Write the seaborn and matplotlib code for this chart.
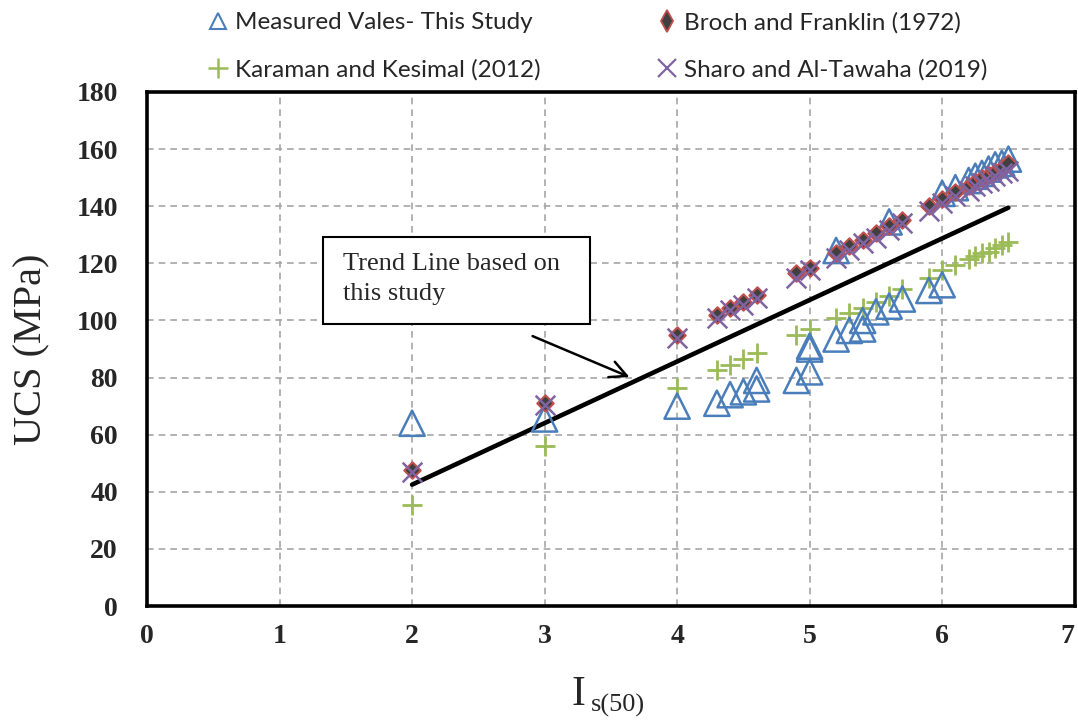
import numpy as np
import pandas as pd
import matplotlib
matplotlib.use("Agg")
import matplotlib.pyplot as plt
from matplotlib.lines import Line2D
from matplotlib.patches import Rectangle
import seaborn as sns

# measured values - this study
meas_is = [2, 3, 4, 4.3, 4.4, 4.5, 4.6, 4.6, 4.9, 5.0, 5.0, 5.0, 5.2, 5.3, 5.4, 5.4,
           5.5, 5.6, 5.7, 5.9, 6.0, 5.2, 5.6, 6.0, 6.1, 6.2, 6.25, 6.3, 6.35, 6.4, 6.45, 6.5]
meas_ucs = [64, 65.5, 70, 71, 74, 75, 76, 79, 79, 82, 90, 91, 93.5, 96.5, 97, 100,
            103, 105, 107.5, 110.5, 112.5, 124.5, 134.5, 144.5, 146.5, 149, 150.5, 151.5, 153, 154.5, 155, 156.5]

# empirical correlations
corr_is = [2, 3, 4, 4.3, 4.4, 4.5, 4.6, 4.9, 5.0, 5.2, 5.3, 5.4, 5.5, 5.6, 5.7,
           5.9, 6.0, 6.1, 6.2, 6.25, 6.3, 6.35, 6.4, 6.45, 6.5]
broch_ucs = [47.5, 71, 95, 102, 104.5, 106.5, 109, 116.5, 118.5, 123.5, 126, 128, 130.5, 133, 135,
             140, 142.5, 145, 147, 148.5, 150, 151, 152, 153.5, 155]
karaman_ucs = [35.5, 56, 76.5, 82.5, 84.5, 86.5, 88.5, 95, 97, 101, 102.5, 104.5, 106.5, 108.5, 111,
               115, 117.5, 119.5, 121.5, 122.5, 123.5, 124, 125.5, 126.5, 127.5]
sharo_ucs = [47, 70.5, 94, 101, 103.5, 105.5, 108, 115, 117.5, 122, 124.5, 127, 129, 131.5, 134,
             138.5, 141, 143.5, 145.5, 147, 148, 149, 150.5, 151.5, 152.5]

# trend line from this study
trend_is = [2, 6.5]
trend_ucs = [42.5, 139.5]

labels = ["Measured Vales- This Study", "Karaman and Kesimal (2012)",
          "Broch and Franklin (1972)", "Sharo and Al-Tawaha (2019)"]

blue = "#4A7EBB"
green = "#9BBB59"
red = "#C0504D"
purple = "#8064A2"

sns.set_style("white")
plt.rcParams["font.family"] = ["Liberation Serif", "DejaVu Serif"]

fig = plt.figure(figsize=(10.78, 7.21), dpi=100)
ax = fig.add_axes([0.1364, 0.1595, 0.8605, 0.7129])

meas = pd.DataFrame({"Is": meas_is, "UCS": meas_ucs})
corr = pd.DataFrame({"Is": corr_is, "broch": broch_ucs, "karaman": karaman_ucs, "sharo": sharo_ucs})
trend = pd.DataFrame({"Is": trend_is, "UCS": trend_ucs})

sns.lineplot(data=trend, x="Is", y="UCS", color="black", linewidth=3.3, ax=ax, zorder=2)
sns.scatterplot(data=corr, x="Is", y="karaman", marker="+", s=220, color=green,
                linewidth=2, ax=ax, zorder=3)
sns.scatterplot(data=meas, x="Is", y="UCS", marker="^", s=330, facecolor="none",
                edgecolor=blue, linewidth=1.8, ax=ax, zorder=4)
sns.scatterplot(data=corr, x="Is", y="broch", marker="D", s=70, color="#404040",
                edgecolor=red, linewidth=1.5, ax=ax, zorder=5)
sns.scatterplot(data=corr, x="Is", y="sharo", marker="x", s=200, color=purple,
                linewidth=1.8, ax=ax, zorder=6)

ax.set_xlim(0, 7)
ax.set_ylim(0, 180)
ax.set_xticks(range(0, 8))
ax.set_yticks(range(0, 181, 20))
ax.grid(True, color="#A6A6A6", linestyle=(0, (4, 3)), linewidth=1.2)
ax.set_axisbelow(True)
for sp in ax.spines.values():
    sp.set_linewidth(2.6)
    sp.set_color("black")
ax.tick_params(length=0, labelsize=20)
ax.tick_params(axis="y", pad=21)
ax.tick_params(axis="x", pad=13)
for lab in ax.get_xticklabels() + ax.get_yticklabels():
    lab.set_fontweight("bold")
ax.get_xticklabels()[-1].set_horizontalalignment("right")

ax.set_ylabel("UCS (MPa)", fontsize=29)
ax.yaxis.set_label_coords(-0.104, 0.5)
ax.set_xlabel("")
# x label: I with subscript s(50)
fig.text(0.5306, 1 - 705 / 721, "I", fontsize=30, ha="left", va="baseline")
fig.text(0.5485, 1 - 712 / 721, "s(50)", fontsize=19, ha="left", va="baseline")

# annotation box and arrow
ax.add_patch(Rectangle((1.33, 98.7), 2.01, 30.5, facecolor="white", edgecolor="black",
                       linewidth=1.5, zorder=7))
ax.text(1.48, 114.5, "Trend Line based on\nthis study", fontsize=19, va="center", ha="left",
        linespacing=1.45, zorder=8)
ax.annotate("", xy=(3.66, 79.8), xytext=(2.89, 94.9),
            arrowprops=dict(arrowstyle="->", color="black", lw=1.8, mutation_scale=30), zorder=8)

handles = [
    Line2D([], [], marker="^", linestyle="none", markersize=12, markerfacecolor="none",
           markeredgecolor=blue, markeredgewidth=1.5),
    Line2D([], [], marker="+", linestyle="none", markersize=14, color=green, markeredgewidth=1.8),
    Line2D([], [], marker="d", linestyle="none", markersize=11, markerfacecolor="#404040",
           markeredgecolor=red, markeredgewidth=1.3),
    Line2D([], [], marker="x", linestyle="none", markersize=13, color=purple, markeredgewidth=1.6),
]
fig.legend(handles, labels, loc="upper left", bbox_to_anchor=(0.184, 0.997), ncol=2,
           frameon=False, prop={"family": "Lato", "size": 17.5}, handlelength=0.8,
           handletextpad=0.3, columnspacing=4.8, labelspacing=1.05, borderaxespad=0)

fig.savefig("out.png", dpi=100)
